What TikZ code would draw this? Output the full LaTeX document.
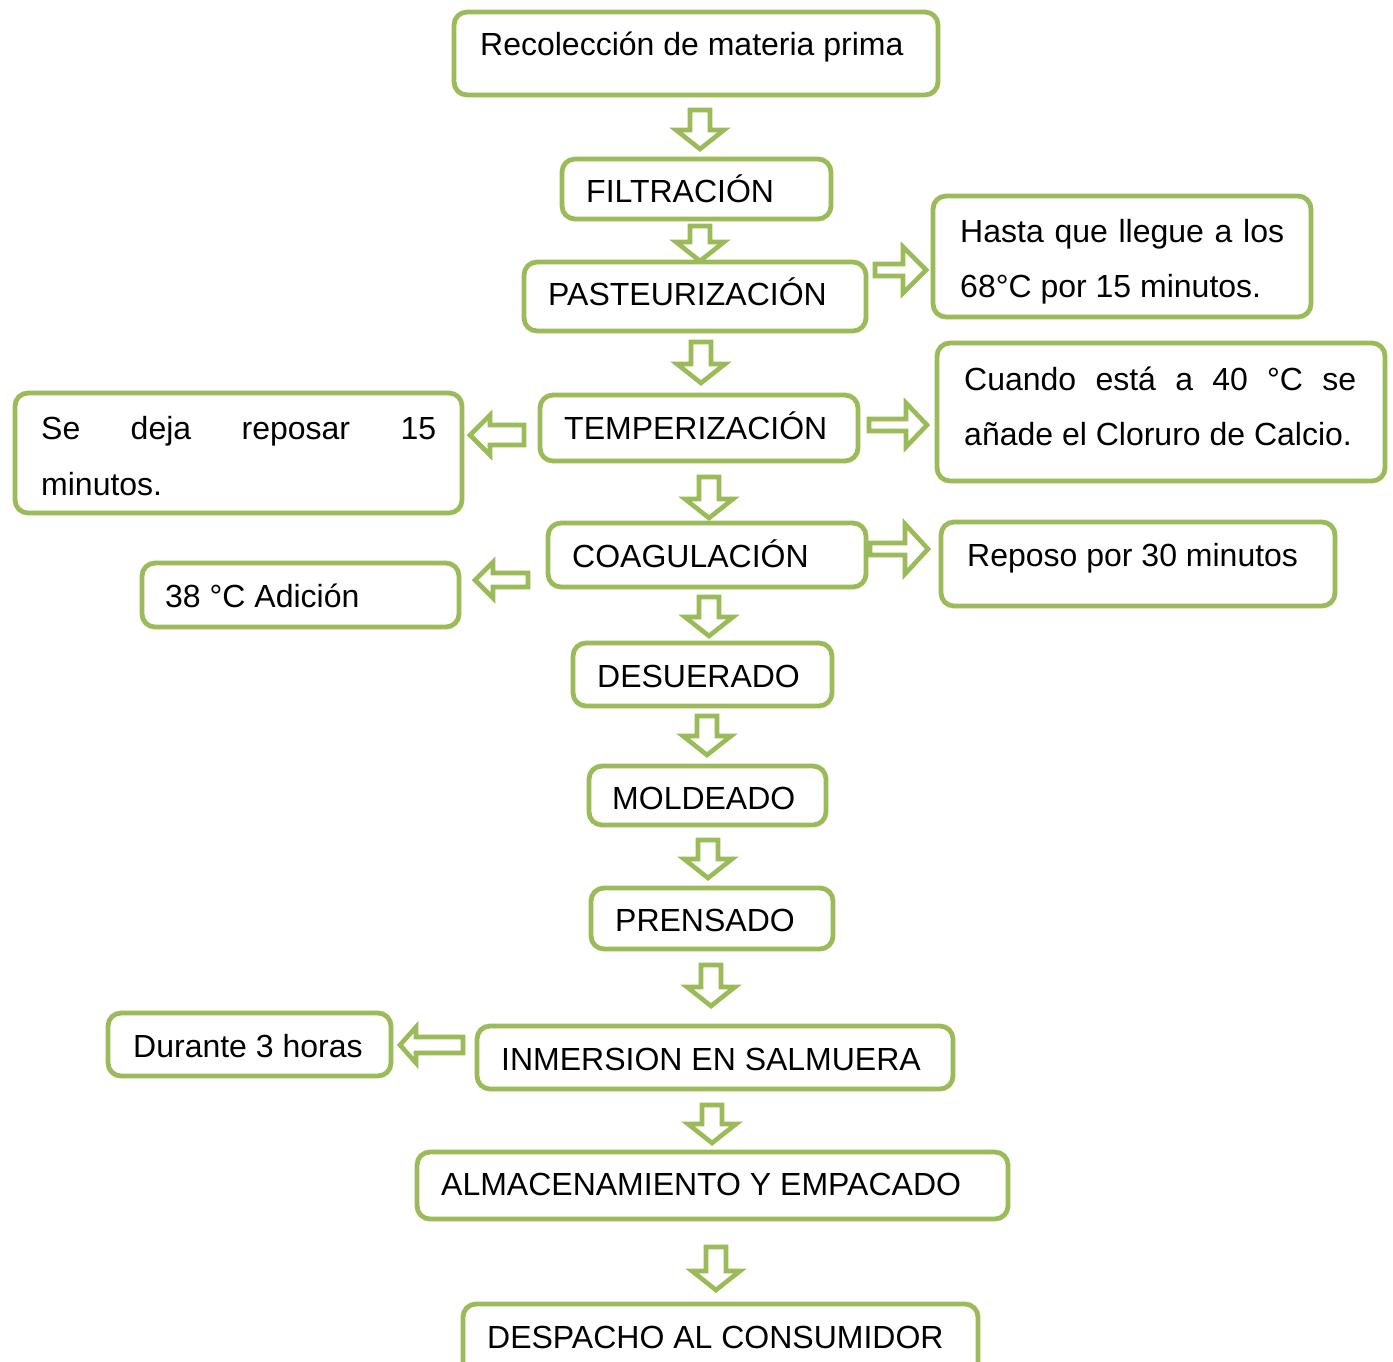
\documentclass[tikz,border=0pt]{standalone}
\usepackage{fontspec}
\setmainfont{Liberation Sans}
\usetikzlibrary{fit}
\definecolor{og}{HTML}{9BBB59}
\tikzset{
 box/.style={draw=og, line width=4.8pt, rounded corners=13pt, inner sep=0pt, fill=white},
 txt/.style={inner sep=0pt, font=\fontsize{32}{55}\selectfont, text=black},
 blk/.style={draw=og, line width=4.6pt, fill=white, line join=miter},
}
\newcommand\arrD[3]{\draw[blk] (#1-10,#2) -- (#1+10,#2) -- (#1+10,#3-19) -- (#1+24,#3-19) -- (#1,#3) -- (#1-24,#3-19) -- (#1-10,#3-19) -- cycle;}
\newcommand\arrH[6]{\draw[blk] (#1,#4-#5) -- (#2,#4-#5) -- (#2,#4-#6) -- (#3,#4) -- (#2,#4+#6) -- (#2,#4+#5) -- (#1,#4+#5) -- cycle;}
\begin{document}
\begin{tikzpicture}[x=1pt,y=-1pt]
\clip (0,0) rectangle (1393,1362);
\fill[white] (0,0) rectangle (1393,1362);
% boxes
\node[box, fit={(454,12) (938,95)}] (rec) {};
\node[box, fit={(562,159) (831,219)}] (filt) {};
\node[box, fit={(524,262) (866,331)}] (past) {};
\node[box, fit={(933,196) (1311,317)}] (hasta) {};
\node[box, fit={(540,395) (858,461)}] (temp) {};
\node[box, fit={(15,393) (462,513)}] (sedeja) {};
\node[box, fit={(937,343) (1385,481)}] (cuando) {};
\node[box, fit={(548,523) (866,587)}] (coag) {};
\node[box, fit={(142,563) (459,627)}] (adic) {};
\node[box, fit={(941,522) (1335,606)}] (reposo) {};
\node[box, fit={(573,643) (832,706)}] (desu) {};
\node[box, fit={(589,766) (826,825)}] (mold) {};
\node[box, fit={(591,888) (833,949)}] (prens) {};
\node[box, fit={(108,1013) (391,1076)}] (durante) {};
\node[box, fit={(477,1026) (953,1089)}] (inmer) {};
\node[box, fit={(417,1152) (1008,1219)}] (almac) {};
\node[box, fit={(463,1304) (978,1380)}] (desp) {};
% texts
\node[txt, anchor=base west] (trec) at (480,56) {Recolección de materia prima};
\node[txt, anchor=base west] (tfilt) at (586,202) {FILTRACIÓN};
\node[txt, anchor=base west] (tpast) at (548,305) {PASTEURIZACIÓN};
\node[txt, anchor=base west] (thasta1) at (960,242) {\makebox[324pt][s]{Hasta que llegue a los}};
\node[txt, anchor=base west] (thasta2) at (960,297) {68°C por 15 minutos.};
\node[txt, anchor=base west] (ttemp) at (564,439) {TEMPERIZACIÓN};
\node[txt, anchor=base west] (tsedeja1) at (41,439) {\makebox[395pt][s]{Se deja reposar 15}};
\node[txt, anchor=base west] (tsedeja2) at (41,495) {minutos.};
\node[txt, anchor=base west] (tcuando1) at (964,390) {\makebox[392pt][s]{Cuando está a 40 °C se}};
\node[txt, anchor=base west] (tcuando2) at (964,445) {añade el Cloruro de Calcio.};
\node[txt, anchor=base west] (tcoag) at (572,567) {COAGULACIÓN};
\node[txt, anchor=base west] (tadic) at (165,607) {38 °C Adición};
\node[txt, anchor=base west] (treposo) at (967,566) {Reposo por 30 minutos};
\node[txt, anchor=base west] (tdesu) at (597,687) {DESUERADO};
\node[txt, anchor=base west] (tmold) at (612,809) {MOLDEADO};
\node[txt, anchor=base west] (tprens) at (615,931) {PRENSADO};
\node[txt, anchor=base west] (tdurante) at (133,1057) {Durante 3 horas};
\node[txt, anchor=base west] (tinmer) at (501,1070) {INMERSION EN SALMUERA};
\node[txt, anchor=base west] (talmac) at (441,1195) {ALMACENAMIENTO Y EMPACADO};
\node[txt, anchor=base west] (tdesp) at (487,1348) {DESPACHO AL CONSUMIDOR};
% down arrows
\arrD{700}{110}{149}
\arrD{700}{226}{261}
\arrD{701}{342}{383}
\arrD{709}{477}{518}
\arrD{709}{597}{636}
\arrD{707}{716}{755}
\arrD{708}{840}{878}
\arrD{711}{965}{1006}
\arrD{712}{1105}{1143}
\arrD{716}{1247}{1290}
% side arrows
\arrH{875}{903}{926}{270}{6}{23}
\arrH{869}{906}{927}{425}{6}{22}
\arrH{870}{905}{928}{549}{6}{25}
\arrH{524}{490}{470}{435}{10}{20}
\arrH{528}{493}{475}{580}{7}{18}
\arrH{463}{416}{400}{1045}{8}{18}
\end{tikzpicture}
\end{document}
